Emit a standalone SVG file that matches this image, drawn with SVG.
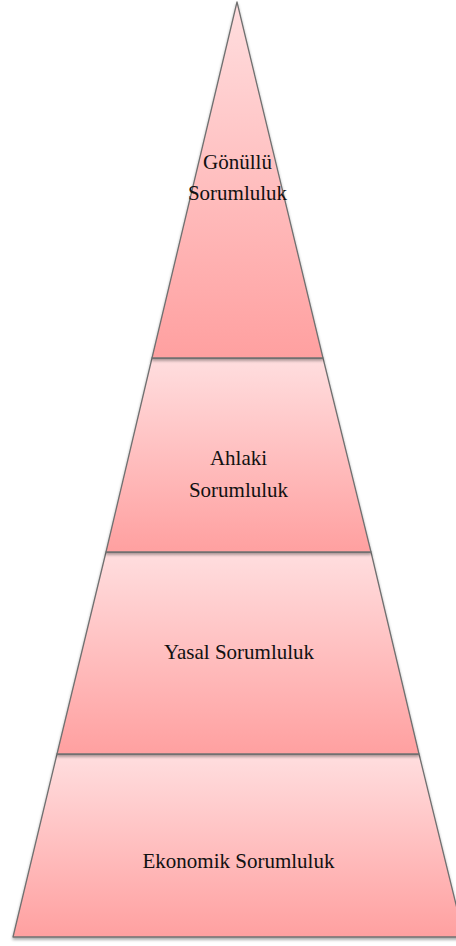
<svg xmlns="http://www.w3.org/2000/svg" width="456" height="946" viewBox="0 0 456 946">
<defs>
<linearGradient id="g" x1="0" y1="0" x2="0" y2="1">
<stop offset="0" stop-color="#FFDEDF"/>
<stop offset="1" stop-color="#FFA0A0"/>
</linearGradient>
<filter id="sh" x="-10%" y="-10%" width="120%" height="130%">
<feGaussianBlur in="SourceAlpha" stdDeviation="1.5"/>
<feOffset dx="0" dy="2" result="b"/>
<feComponentTransfer><feFuncA type="linear" slope="0.35"/></feComponentTransfer>
<feMerge><feMergeNode/><feMergeNode in="SourceGraphic"/></feMerge>
</filter>
</defs>
<style>
.layer{fill:url(#g);stroke:#707070;stroke-width:1.3;stroke-linejoin:round;filter:url(#sh)}
.t{font-family:"Liberation Serif","Times New Roman",serif;font-size:21px;fill:#111;text-anchor:middle}
</style>
<rect width="456" height="946" fill="#fff"/>
<g id="economic">
<polygon class="layer" points="57,754 419,754 464,937 13,937"/>
<text class="t" x="238.5" y="868">Ekonomik Sorumluluk</text>
</g>
<g id="legal">
<polygon class="layer" points="106,552 371,552 419,754 57,754"/>
<text class="t" x="239" y="659">Yasal Sorumluluk</text>
</g>
<g id="ethical">
<polygon class="layer" points="152,358 323,358 371,552 106,552"/>
<text class="t" x="238.5" y="465">Ahlaki</text>
<text class="t" x="238.5" y="497">Sorumluluk</text>
</g>
<g id="voluntary">
<polygon class="layer" points="237,2 323,358 152,358"/>
<text class="t" x="237.5" y="169">Gönüllü</text>
<text class="t" x="237.5" y="200">Sorumluluk</text>
</g>
<g id="connectors"></g>
</svg>
